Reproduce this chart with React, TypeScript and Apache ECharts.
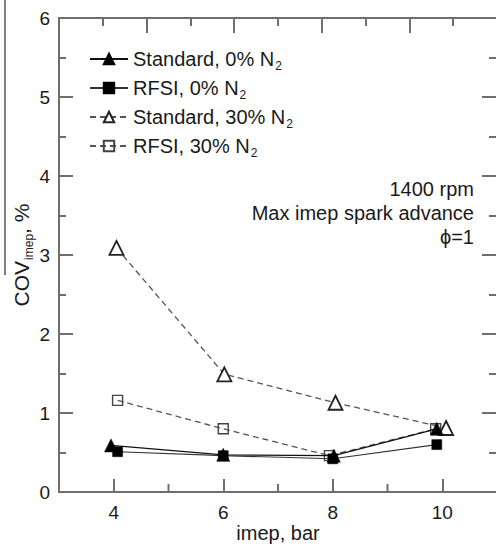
import React, { useEffect, useRef } from "react";
import * as echarts from "echarts";

const seriesNames = ["Standard, 0% N2", "RFSI, 0% N2", "Standard, 30% N2", "RFSI, 30% N2"];
const standard0: [number, number][] = [[3.95, 0.59], [6.0, 0.47], [8.02, 0.46], [9.9, 0.8]];
const rfsi0: [number, number][] = [[4.07, 0.51], [6.0, 0.46], [8.0, 0.42], [9.9, 0.6]];
const standard30: [number, number][] = [[4.05, 3.09], [6.02, 1.49], [8.05, 1.13], [10.07, 0.81]];
const rfsi30: [number, number][] = [[4.07, 1.16], [6.0, 0.8], [7.94, 0.46], [9.88, 0.8]];
const xMajorTicks = [4, 6, 8, 10];
const xMinorTicks = [5, 7, 9];
const annotationLines = ["1400 rpm", "Max imep spark advance", "ϕ=1"];

const FONT = "'Liberation Sans', Arial, sans-serif";
const AXIS = "#6e6e6e";
const TEXT = "#1a1a1a";

const ls = () => ({ color: AXIS, width: 2 });
const noSplit = () => ({ show: true, lineStyle: { color: "rgba(0,0,0,0)", width: 0 } });

export default function App() {
  const ref = useRef<HTMLDivElement>(null);
  useEffect(() => {
    if (!ref.current) return;
    const chart = echarts.init(ref.current, undefined, { renderer: "svg" });
    const subRich = {
      t: { fontSize: 20, fontFamily: FONT, color: TEXT, lineHeight: 20, verticalAlign: "bottom" },
      s: { fontSize: 12, fontFamily: FONT, color: TEXT, lineHeight: 12, verticalAlign: "bottom", padding: [0, 0, -3, 1] },
    };
    const option: any = {
      animation: false,
      backgroundColor: "#ffffff",
      grid: { left: 59, top: 18, width: 438, height: 474, outerBoundsMode: "none" },
      legend: {
        orient: "vertical",
        left: 84,
        top: 44,
        itemWidth: 38,
        itemHeight: 13,
        itemGap: 6,
        data: seriesNames,
        formatter: (n: string) => `{t|${n.slice(0, -1)}}{s|2}`,
        textStyle: { fontFamily: FONT, fontSize: 20, color: TEXT, rich: subRich },
      },
      xAxis: [
        {
          type: "value",
          position: "bottom",
          min: 3,
          max: 11,
          interval: 1,
          name: "imep, bar",
          nameLocation: "middle",
          nameGap: 31,
          nameMoveOverlap: false,
          nameTextStyle: { fontFamily: FONT, fontSize: 20, color: TEXT },
          axisLine: { show: true, onZero: false, lineStyle: ls() },
          axisTick: { show: true, inside: true, length: 13, customValues: xMajorTicks, lineStyle: ls() },
          axisLabel: { show: true, customValues: xMajorTicks, margin: 11, fontFamily: FONT, fontSize: 19, color: TEXT },
          splitLine: noSplit(),
        },
        {
          type: "value",
          position: "top",
          min: 0,
          max: 5,
          interval: 1,
          axisLine: { show: true, onZero: false, lineStyle: ls() },
          axisTick: { show: true, inside: true, length: 15, lineStyle: ls() },
          minorTick: { show: true, splitNumber: 2, length: 8, lineStyle: ls() },
          axisLabel: { show: false },
          splitLine: noSplit(),
        },
      ],
      yAxis: [
        {
          type: "value",
          position: "left",
          min: 0,
          max: 6,
          interval: 1,
          name: "{a|COV}{s|imep}{a|, %}",
          nameLocation: "middle",
          nameGap: 27,
          nameMoveOverlap: false,
          nameTextStyle: {
            fontFamily: FONT,
            color: TEXT,
            rich: {
              a: { fontSize: 21, fontFamily: FONT, color: TEXT, lineHeight: 22, verticalAlign: "bottom" },
              s: { fontSize: 12, fontFamily: FONT, color: TEXT, lineHeight: 12, verticalAlign: "bottom", padding: [0, 0, -3, 1] },
            },
          },
          axisLine: { show: true, onZero: false, lineStyle: ls() },
          axisTick: { show: true, inside: true, length: 14, lineStyle: ls() },
          minorTick: { show: true, splitNumber: 2, length: 7, lineStyle: ls() },
          axisLabel: { show: true, margin: 9, fontFamily: FONT, fontSize: 19, color: TEXT },
          splitLine: noSplit(),
        },
        {
          type: "value",
          position: "right",
          min: 0,
          max: 6,
          interval: 1,
          axisLine: { show: true, onZero: false, lineStyle: ls() },
          axisTick: { show: true, inside: true, length: 15, lineStyle: ls() },
          minorTick: { show: true, splitNumber: 2, length: 8, lineStyle: ls() },
          axisLabel: { show: false },
          splitLine: noSplit(),
        },
      ],
      graphic: [
        {
          type: "line",
          shape: { x1: 5, y1: 0, x2: 5, y2: 275 },
          style: { stroke: "#555", lineWidth: 1.5 },
          silent: true,
        },
        {
          type: "text",
          x: 474,
          y: 177,
          style: {
            text: annotationLines.join("\n"),
            align: "right",
            verticalAlign: "top",
            lineHeight: 24,
            fontFamily: FONT,
            fontSize: 20,
            fill: TEXT,
          },
          silent: true,
        },
      ],
      series: [
        {
          type: "custom",
          xAxisIndex: 0,
          yAxisIndex: 0,
          silent: true,
          clip: false,
          data: xMinorTicks.map((v) => [v, 0]),
          renderItem: (_params: any, api: any) => {
            const p = api.coord([api.value(0), 0]);
            return {
              type: "line",
              shape: { x1: p[0], y1: p[1], x2: p[0], y2: p[1] - 8 },
              style: { stroke: AXIS, lineWidth: 2 },
            };
          },
          z: 1,
        },
        {
          name: seriesNames[2],
          type: "line",
          data: standard30,
          symbol: "triangle",
          symbolSize: 14,
          lineStyle: { color: "#555", width: 1.3, type: [6, 4] },
          itemStyle: { color: "#ffffff", borderColor: "#222", borderWidth: 1.8 },
          z: 2,
        },
        {
          name: seriesNames[3],
          type: "line",
          data: rfsi30,
          symbol: "rect",
          symbolSize: 10,
          lineStyle: { color: "#555", width: 1.3, type: [6, 4] },
          itemStyle: { color: "rgba(255,255,255,0)", borderColor: "#444", borderWidth: 1.4 },
          z: 2,
        },
        {
          name: seriesNames[0],
          type: "line",
          data: standard0,
          symbol: "triangle",
          symbolSize: 13,
          lineStyle: { color: "#111", width: 1.2 },
          itemStyle: { color: "#000", borderColor: "#000", borderWidth: 0.5 },
          z: 3,
        },
        {
          name: seriesNames[1],
          type: "line",
          data: rfsi0,
          symbol: "rect",
          symbolSize: 10,
          lineStyle: { color: "#333", width: 1.1 },
          itemStyle: { color: "#000", borderColor: "#000", borderWidth: 0.5 },
          z: 3,
        },
      ],
    };
    chart.setOption(option);
    return () => chart.dispose();
  }, []);
  return (
    <div
      ref={ref}
      style={{ position: "absolute", left: 0, top: 0, width: 496, height: 545, overflow: "hidden" }}
    />
  );
}
